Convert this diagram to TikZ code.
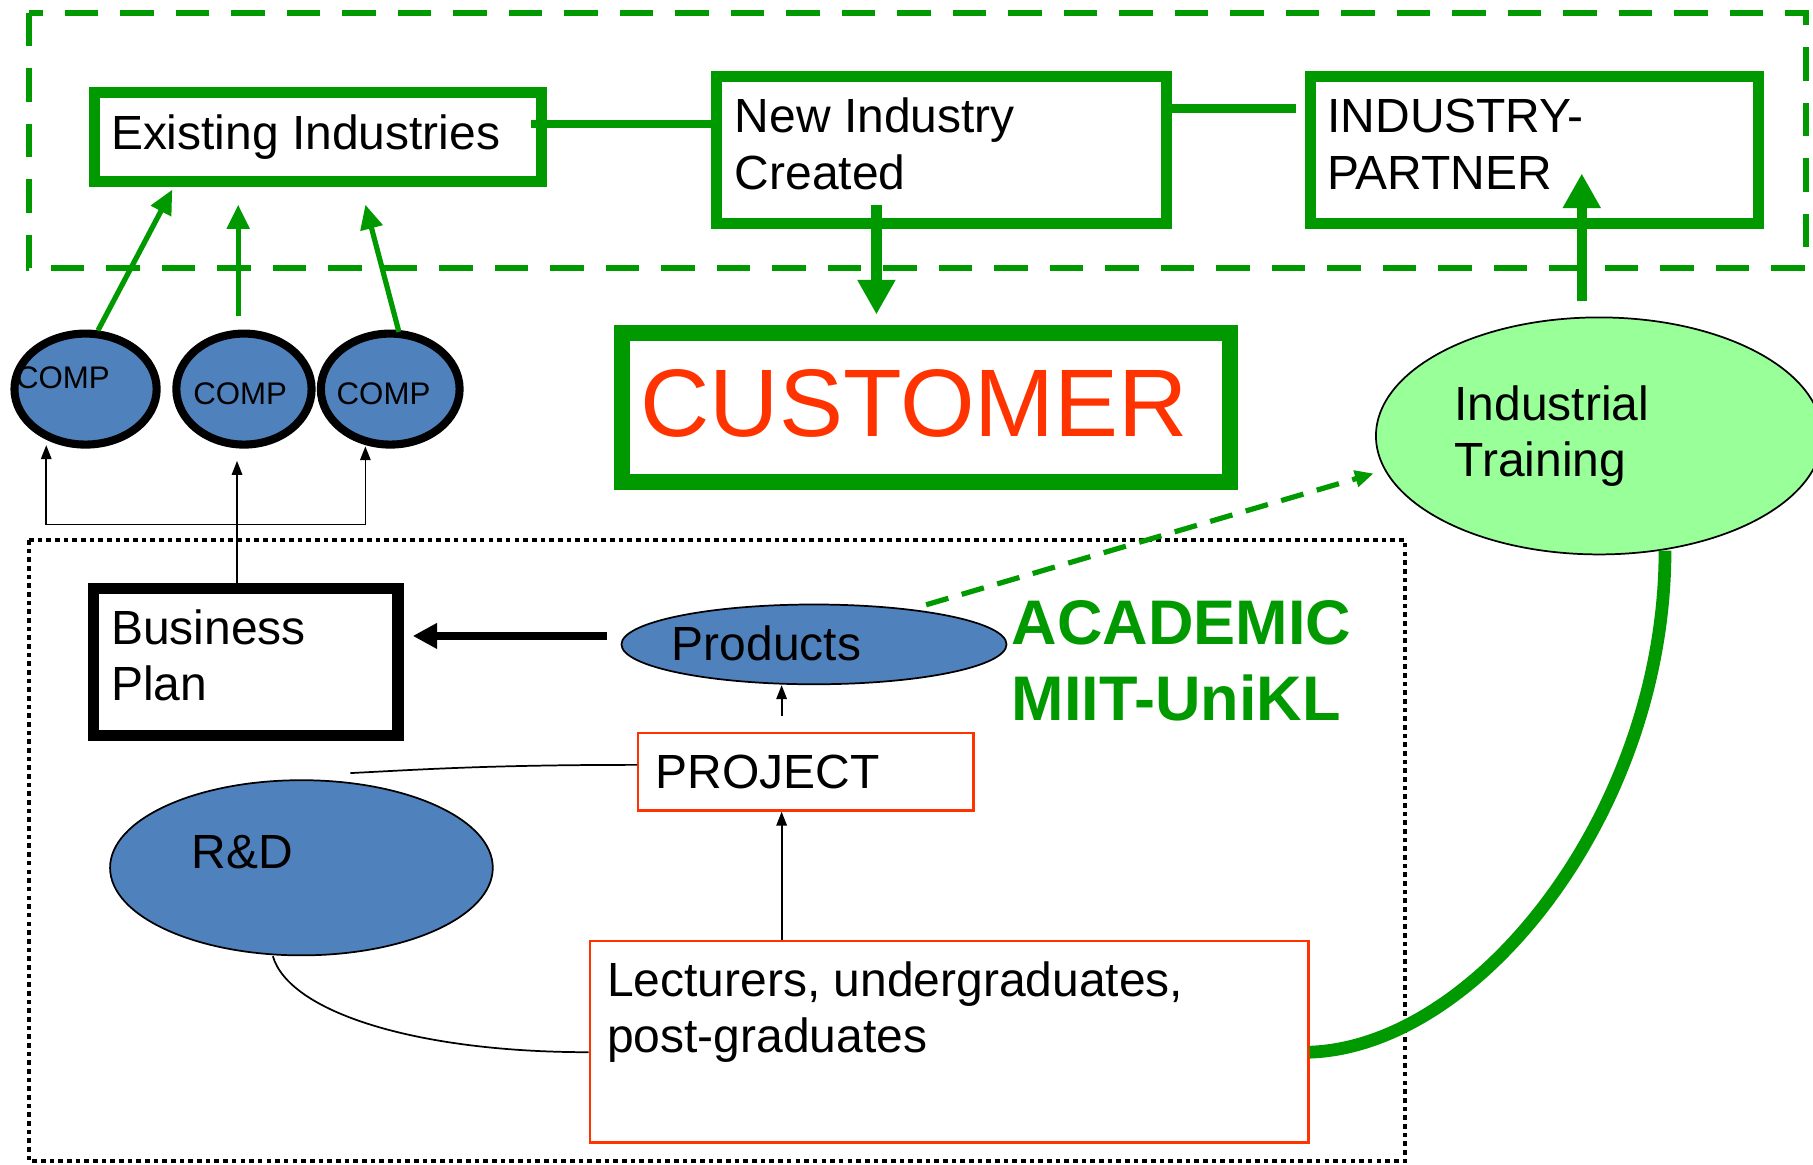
\documentclass[tikz,border=0pt]{standalone}
\usepackage{fontspec}
\setmainfont{Liberation Sans}
\usetikzlibrary{shapes.geometric,arrows.meta,calc}
\definecolor{igreen}{HTML}{009900}
\definecolor{ired}{HTML}{FF3300}
\definecolor{iblue}{HTML}{4F81BD}
\definecolor{ilgreen}{HTML}{99FF99}
\newcommand\mytxt{\fontsize{41.5}{49}\selectfont}
\begin{document}
\begin{tikzpicture}[x=1pt,y=-1pt,
  greenbox/.style={draw=igreen,line width=9.5pt,rectangle,inner sep=0pt},
  redbox/.style={draw=ired,line width=2pt,rectangle,inner sep=0pt},
  compell/.style={ellipse,draw=black,line width=7pt,fill=iblue,inner sep=0pt,minimum height=96pt},
  blueell/.style={ellipse,draw=black,line width=1.5pt,fill=iblue,inner sep=0pt},
  txt/.style={inner sep=0pt,outer sep=0pt,align=left,font=\mytxt,anchor=base west},
  comptxt/.style={inner sep=0pt,anchor=base west,font=\fontsize{27}{32}\selectfont},
  gline/.style={draw=igreen,line width=7pt},
  garrow/.style={draw=igreen,fill=igreen,line width=4.5pt,-{Triangle[length=21pt,width=19pt]}},
  bigarrow/.style={draw=igreen,fill=igreen,line width=9pt,-{Triangle[length=30pt,width=31pt]}},
  thinarrow/.style={draw=black,line width=1.5pt,-{Triangle[length=12pt,width=9pt]}},
  thinline/.style={draw=black,line width=1.5pt}
]
\useasboundingbox (0,0) rectangle (1568,1007);
\clip (0,0) rectangle (1568,1007);

% frames
\draw[igreen,line width=5.5pt,dash pattern=on 29pt off 19pt] (25,11) rectangle (1562,232);
\draw[black,line width=4pt,dash pattern=on 4pt off 3.5pt] (25,467) rectangle (1215,1004);

% nodes (multi-line texts are placed by the baseline of their last line)
\node[greenbox,minimum width=386.5pt,minimum height=77pt] (exist) at (275,118.75) {};
\node[txt] (existt) at (96,129) {Existing Industries};
\node[greenbox,minimum width=389pt,minimum height=127.5pt] (newind) at (814.3,129.5) {};
\node[txt] (newindt) at (635.5,163.7) {New Industry\\Created};
\node[greenbox,minimum width=387.7pt,minimum height=127.5pt] (partner) at (1327.1,129.5) {};
\node[txt] (partnert) at (1148,163.8) {INDUSTRY-\\PARTNER};
\node[greenbox,line width=14pt,minimum width=525.5pt,minimum height=129pt] (customer) at (800.75,352.5) {};
\node[txt,font=\fontsize{83}{98}\selectfont,text=ired] (customert) at (554,377.7) {CUSTOMER};

\node[compell,minimum width=123pt] (comp1) at (74,336.5) {};
\node[comptxt] (comp1t) at (13.7,336) {COMP};
\node[compell,minimum width=117pt] (comp2) at (211,336.5) {};
\node[comptxt] (comp2t) at (167,350) {COMP};
\node[compell,minimum width=120pt] (comp3) at (337.5,336.5) {};
\node[comptxt] (comp3t) at (291,350) {COMP};

\node[ellipse,draw=black,line width=1.5pt,fill=ilgreen,inner sep=0pt,minimum width=386pt,minimum height=205pt] (training) at (1383,377) {};
\node[txt] (trainingt) at (1258,412.5) {Industrial\\Training};

\node[draw=black,line width=10pt,rectangle,inner sep=0pt,minimum width=263pt,minimum height=127pt] (bplan) at (212.5,572.5) {};
\node[txt] (bplant) at (96,606) {Business\\Plan};

\node[blueell,minimum width=333pt,minimum height=69pt] (products) at (704,557.3) {};
\node[txt] (productst) at (581,571.6) {Products};

\node[txt,font=\fontsize{54.5}{66}\selectfont\bfseries,text=igreen] (academic) at (875,623) {ACADEMIC\\MIIT-UniKL};

\node[redbox,minimum width=290pt,minimum height=67pt] (project) at (697,667.5) {};
\node[txt] (projectt) at (567,681.6) {PROJECT};

\node[blueell,minimum width=331pt,minimum height=151.5pt] (rd) at (260.7,750.5) {};
\node[txt] (rdt) at (166,751) {R\&D};

\node[redbox,minimum width=621.6pt,minimum height=174pt] (lect) at (820.8,901) {};
\node[txt] (lectt) at (525,910.6) {Lecturers, undergraduates,\\post-graduates};

\coordinate (junction) at (205,453.7);
\coordinate (rdfree) at (303,668.6);

% connectors (top)
\draw[gline] ($(exist.east)+(-14,-11.75)$) -- ($(newind.west)+(0,-22.5)$);
\draw[gline,line width=7.5pt] ($(newind.east)+(0,-35.9)$) -- ($(partner.west)+(-8,-35.9)$);
\draw[bigarrow] ($(newind.south)+(-56.3,-21)$) -- ($(newind.south |- customer.north)+(-56.3,-9)$);
\draw[bigarrow] ($(training.north)+(-15,-13)$) -- ($(training.north |- partner.south)+(-15,-48)$);

\draw[garrow] (comp1.78) -- ($(exist.south)+(-126,2)$);
\draw[garrow] ($(comp2.north)+(-5,-12)$) -- ($(exist.south)+(-69,15)$);
\draw[garrow] ($(comp3.north)+(7.5,2)$) -- ($(exist.south)+(41,15)$);

% business plan to comps
\draw[thinline] (junction |- bplan.north) -- (junction);
\draw[thinarrow] (junction) -| ($(comp1.south)+(-34,-3)$);
\draw[thinarrow] (junction) -- ($(comp2.south)+(-6,10.6)$);
\draw[thinarrow] (junction) -| ($(comp3.south)+(-21.5,-2)$);

% academic connectors
\draw[black,line width=7.5pt,-{Triangle[length=21pt,width=21pt]}] ($(products.west)+(-12,-7.3)$) -- ($(bplan.east |- products.west)+(8,-7.3)$);
\draw[igreen,line width=4.5pt,dash pattern=on 20pt off 12pt,-{Triangle[length=16pt,width=14pt]}] ($(products.north)+(97,1)$) -- ($(training.west)+(-1.3,32.5)$);
\draw[thinarrow] ($(project.north)+(-21,-13.5)$) -- ($(products.south)+(-28,0)$);
\draw[thinarrow] ($(lect.north)+(-144.8,0)$) -- ($(project.south)+(-21,0)$);
\draw[thinline] ($(project.west)+(0,-6)$) .. controls +(-130,0) and +(60,-3) .. (rdfree);
\draw[thinline] ($(rd.south)+(-24.7,0)$) .. controls +(14,48) and +(-150,0) .. ($(lect.west)+(0,9)$);
\draw[igreen,line width=11pt] ($(lect.east)+(0,9)$) .. controls +(147,-5) and +(0,224) .. ($(training.south)+(57,-4)$);
\end{tikzpicture}
\end{document}
